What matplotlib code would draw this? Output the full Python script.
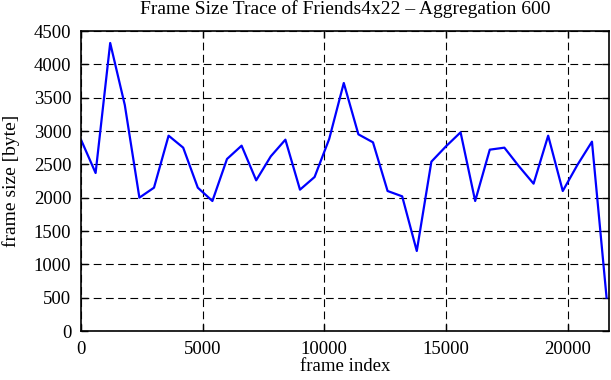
import matplotlib
matplotlib.use("Agg")
import matplotlib.pyplot as plt
import numpy as np

plt.rcParams['font.family'] = ['Liberation Serif', 'DejaVu Serif']

frame_index = [i * 600 for i in range(37)]
frame_size = [2870, 2370, 4320, 3390, 2000, 2150, 2930, 2750, 2150, 1950,
              2580, 2780, 2260, 2620, 2870, 2120, 2310, 2880, 3720, 2950,
              2830, 2100, 2020, 1200, 2540, 2770, 2980, 1950, 2720, 2750,
              2470, 2210, 2930, 2100, 2490, 2840, 500]
x_ticks = [0, 5000, 10000, 15000, 20000]
y_ticks = [0, 500, 1000, 1500, 2000, 2500, 3000, 3500, 4000, 4500]

fig = plt.figure(figsize=(6.11, 3.80), dpi=100)
ax = fig.add_axes([81/611, 1-331/380, (609-81)/611, 300/380])
ax.plot(frame_index, frame_size, color='#0000ff', linewidth=1.6)
ax.set_xlim(0, 21700)
ax.set_ylim(0, 4500)
ax.set_xticks(x_ticks)
ax.set_yticks(y_ticks)
ax.tick_params(direction='in', length=5, width=1, labelsize=13.5, top=True, right=True)
ax.tick_params(axis='x', pad=7)
ax.tick_params(axis='y', pad=7)
ax.grid(True, color='black', linestyle=(0, (7, 4)), linewidth=0.8)
for s in ax.spines.values():
    s.set_linewidth(1.2)
ax.set_xlabel('frame index', fontsize=13.5, labelpad=0)
ax.set_ylabel('frame size [byte]', fontsize=14, labelpad=10)
ax.set_title('Frame Size Trace of Friends4x22 \u2013 Aggregation 600', fontsize=14, pad=12)
fig.savefig('out.png', dpi=100)
